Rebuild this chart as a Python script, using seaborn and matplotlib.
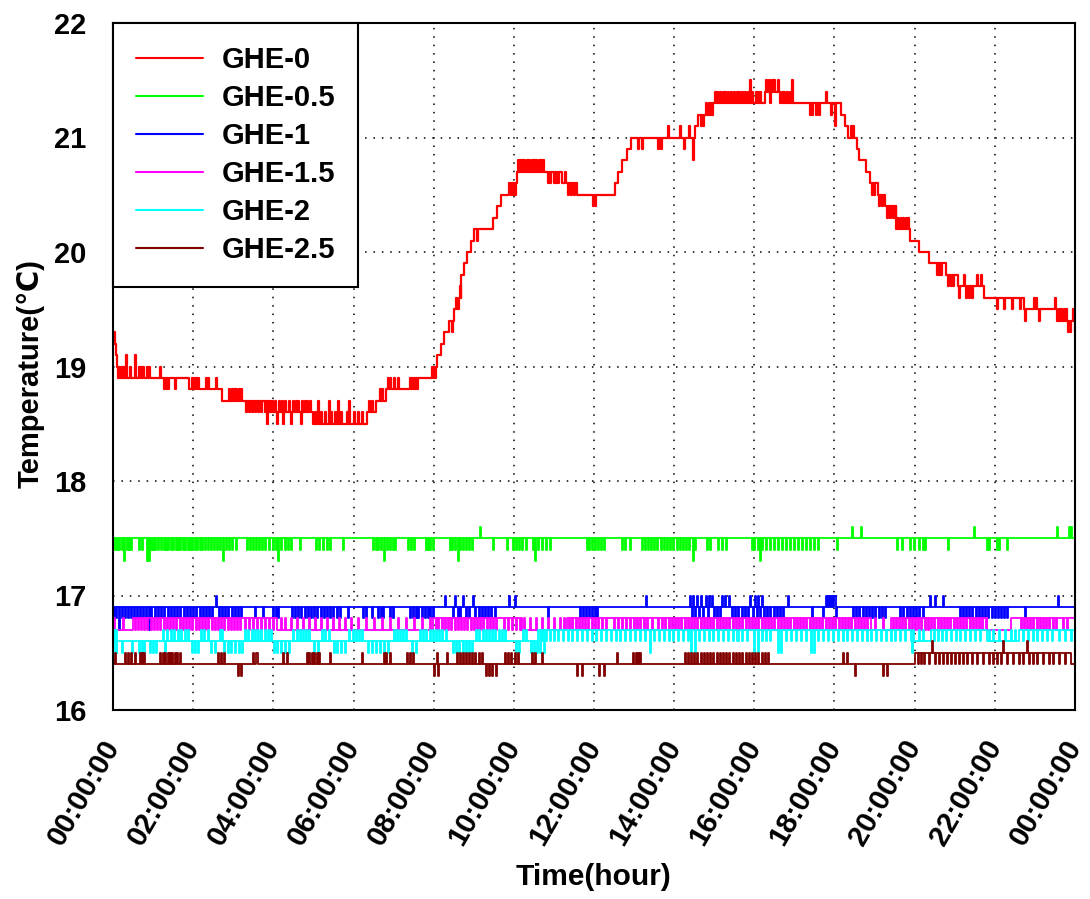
import numpy as np
import matplotlib
matplotlib.use("Agg")
import matplotlib.pyplot as plt
import seaborn as sns
from matplotlib.ticker import MultipleLocator

sns.set_theme(style="white")
plt.rcParams['font.family'] = ['Liberation Sans', 'DejaVu Sans']
plt.rcParams['font.weight'] = 'bold'
plt.rcParams['text.color'] = 'black'
plt.rcParams['axes.labelcolor'] = 'black'
plt.rcParams['xtick.color'] = 'black'
plt.rcParams['ytick.color'] = 'black'
plt.rcParams['axes.edgecolor'] = 'black'

# ---------------- data (time in hours, temperature in degC) ----------------
SERIES = ["GHE-0", "GHE-0.5", "GHE-1", "GHE-1.5", "GHE-2", "GHE-2.5"]
COLORS = ["#FF0000", "#00FF00", "#0000FF", "#FF00FF", "#00FFFF", "#800000"]
XTICK_LABELS = ["00:00:00", "02:00:00", "04:00:00", "06:00:00", "08:00:00",
                "10:00:00", "12:00:00", "14:00:00", "16:00:00", "18:00:00",
                "20:00:00", "22:00:00", "00:00:00"]

# GHE-0 : base steps
ghe0_t = [0.00, 0.06, 0.08, 0.10, 0.12, 1.90, 2.72, 4.00, 5.00, 6.33, 6.55, 6.80,
          7.60, 7.95, 8.08, 8.18, 8.27, 8.39, 8.51, 8.62, 8.68, 8.75, 8.82, 8.92,
          9.00, 9.48, 9.58, 9.68, 9.88, 10.07, 11.20, 11.57, 12.52, 12.60, 12.69,
          12.82, 12.92, 14.51, 14.60, 14.98, 16.27, 16.64, 18.17, 18.25, 18.34,
          18.55, 18.61, 18.79, 18.88, 19.08, 19.25, 19.54, 19.89, 20.12, 20.37,
          20.77, 21.07, 21.74, 22.73, 23.56, 24.00]
ghe0_v = [19.3, 19.2, 19.1, 19.0, 18.9, 18.8, 18.7, 18.6, 18.5, 18.6, 18.7, 18.8,
          18.9, 19.0, 19.1, 19.2, 19.3, 19.4, 19.5, 19.6, 19.8, 19.9, 20.0, 20.1,
          20.2, 20.3, 20.4, 20.5, 20.6, 20.7, 20.6, 20.5, 20.6, 20.7, 20.8,
          20.9, 21.0, 21.1, 21.2, 21.3, 21.4, 21.3, 21.2, 21.1, 21.0,
          20.9, 20.8, 20.7, 20.6, 20.5, 20.4, 20.2, 20.1, 20.0, 19.9,
          19.8, 19.7, 19.6, 19.5, 19.4, 19.3]
# GHE-0 : short excursions (level, times)
ghe0_spikes = [
    (19.0, [0.15, 0.19, 0.23, 0.27, 0.43, 0.64, 0.69, 0.74, 0.86, 0.90, 1.18]),
    (19.1, [0.32, 0.56]),
    (18.8, [1.27, 1.33, 1.38, 1.55, 2.90, 2.96, 3.02, 3.08, 3.14, 3.20, 6.65, 6.72]),
    (18.9, [1.96, 2.01, 2.06, 2.11, 2.32, 2.37, 2.56, 6.86, 6.92, 7.02, 7.12, 7.42,
            7.47, 7.52, 7.57, 7.98, 8.03]),
    (18.6, [3.33, 3.40, 3.48, 3.55, 3.62, 3.70, 3.78, 3.90, 3.95, 5.05, 5.20, 5.30,
            5.45, 5.55, 5.70, 5.85, 6.00, 6.10, 6.20]),
    (18.5, [3.83, 4.10, 4.25, 4.45, 4.68]),
    (18.7, [4.05, 4.15, 4.21, 4.30, 4.38, 4.50, 4.56, 4.62, 4.72, 4.78, 4.85, 4.92,
            5.12, 5.40, 5.62, 5.90, 6.38, 6.45]),
    (19.3, [8.45]), (19.6, [8.55]), (19.7, [8.65]), (20.1, [9.07]),
    (20.5, [9.92, 9.97, 10.02, 11.35, 11.42, 11.50]),
    (20.8, [10.10, 10.15, 10.20, 10.26, 10.32, 10.38, 10.45, 10.50, 10.56, 10.62,
            10.68, 10.74]),
    (20.6, [10.85, 10.90, 11.00, 11.05, 11.10]),
    (20.7, [11.28]),
    (20.4, [11.98, 12.03]),
    (20.9, [13.10, 13.20, 13.60, 13.68, 14.25]),
    (21.1, [13.85, 14.15, 14.38, 14.66, 14.72, 18.02, 18.40, 18.45]),
    (20.8, [14.46]),
    (21.3, [14.80, 14.88, 14.93, 16.40]),
    (21.4, [15.02, 15.08, 15.15, 15.22, 15.28, 15.35, 15.42, 15.50, 15.57, 15.62,
            15.70, 15.76, 15.83, 15.95, 16.05, 16.10, 16.15, 16.70, 16.75, 16.82,
            16.88, 17.78]),
    (21.5, [15.90, 16.30, 16.37, 16.45, 16.50, 16.58, 16.93]),
    (21.2, [17.40, 17.45, 17.55, 17.62, 17.92]),
    (20.5, [18.93, 18.98]),
    (20.4, [19.12, 19.18]),
    (20.3, [19.30, 19.38, 19.45, 19.50, 19.58, 19.65, 19.72, 19.78, 19.84]),
    (19.8, [20.55, 20.60, 20.65, 21.22, 21.55, 21.65]),
    (19.7, [20.82, 20.90, 20.95]),
    (19.6, [21.10, 21.28, 21.35, 21.42, 22.98, 23.02, 23.50]),
    (19.5, [22.05, 22.22, 22.42, 22.62, 23.60, 23.65, 23.72, 23.78, 23.95]),
    (19.4, [22.75, 23.10]),
    (19.3, [23.83, 23.88]),
]

# GHE-0.5
ghe05_t = [0.0, 24.0]
ghe05_v = [17.5, 17.5]
ghe05_spikes = [
    (17.4, [0.05, 0.10, 0.15, 0.22, 0.34, 0.40, 0.46, 0.66, 0.72, 0.95, 1.00, 1.06,
            1.12, 1.20, 1.26, 1.32, 1.38, 1.44, 1.50, 1.56, 1.62, 1.68, 1.74, 1.80,
            1.86, 1.92, 1.98, 2.04, 2.10, 2.16, 2.22, 2.30, 2.38, 2.45, 2.52, 2.60,
            2.68, 2.82, 2.90, 2.98, 3.06, 3.34, 3.42, 3.50, 3.57, 3.64, 3.72, 3.80,
            3.88, 4.00, 4.06, 4.20, 4.28, 4.36, 4.44, 4.67, 5.07, 5.15, 5.25, 5.33,
            5.41, 5.74, 6.49, 6.55, 6.62, 6.68, 6.84, 6.92, 6.98, 7.04, 7.36, 7.44,
            7.52, 7.80, 7.86, 7.92, 7.99, 8.40, 8.46, 8.52, 8.66, 8.72, 8.80, 8.88,
            8.96, 9.47, 9.83, 9.98, 10.05, 10.12, 10.20, 10.30, 10.48, 10.60, 10.70,
            10.80, 10.90, 11.82, 11.88, 11.95, 12.02, 12.10, 12.18, 12.26, 12.69,
            12.78, 12.90, 13.19, 13.26, 13.34, 13.42, 13.50, 13.58, 13.66, 13.74,
            13.82, 13.90, 13.98, 14.06, 14.14, 14.22, 14.30, 14.38, 14.52, 14.81,
            14.90, 15.10, 15.20, 15.30, 15.93, 16.00, 16.08, 16.20, 16.30, 16.40,
            16.50, 16.60, 16.70, 16.80, 16.90, 17.00, 17.10, 17.20, 17.30, 17.40,
            17.50, 17.60, 18.05, 19.55, 19.68, 19.89, 19.98, 20.12, 20.20, 20.26,
            20.84, 21.80, 21.86, 22.05, 22.10, 22.30]),
    (17.3, [0.27, 0.84, 0.90, 2.75, 4.12, 6.76, 8.60, 10.53, 14.46, 16.14]),
    (17.6, [9.16, 18.43, 18.65, 21.49, 23.55, 23.85, 23.90]),
]

# GHE-1
ghe1_t = [0.0, 24.0]
ghe1_v = [16.9, 16.9]
ghe1_spikes = [
    (16.8, [0.02, 0.08, 0.22, 0.30, 0.38, 0.45, 0.52, 0.60, 0.68, 0.75, 0.82, 0.96,
            1.04, 1.12, 1.20, 1.28, 1.36, 1.44, 1.52, 1.60, 1.68, 1.76, 1.84, 1.92,
            2.00, 2.08, 2.16, 2.24, 2.32, 2.40, 2.48, 2.64, 2.72, 2.80, 2.88, 2.96,
            3.04, 3.12, 3.20, 3.54, 3.74, 4.00, 4.06, 4.12, 4.46, 4.54, 4.62, 4.70,
            4.78, 4.86, 4.94, 5.02, 5.10, 5.18, 5.26, 5.34, 5.42, 5.50, 5.58, 5.66,
            5.87, 6.24, 6.30, 6.45, 6.62, 6.68, 6.74, 6.91, 6.99, 7.41, 7.48, 7.55,
            7.62, 7.70, 7.78, 7.85, 7.92, 7.98, 8.48, 8.60, 8.66, 8.80, 8.88, 9.04,
            9.12, 9.20, 9.28, 9.36, 9.44, 9.52, 10.85, 11.65, 11.72, 11.80, 11.88,
            11.95, 12.02, 12.08, 14.44, 14.52, 14.62, 14.72, 14.84, 15.00, 15.08,
            15.14, 15.44, 15.52, 15.60, 15.68, 15.76, 15.84, 15.96, 16.06, 16.14,
            16.24, 16.32, 16.40, 16.48, 16.56, 16.64, 16.72, 17.43, 17.72, 18.04,
            18.46, 18.54, 18.62, 18.70, 18.78, 18.86, 18.94, 19.02, 19.10, 19.18,
            19.26, 19.64, 19.72, 19.80, 19.88, 19.96, 20.04, 20.12, 20.20, 21.13,
            21.20, 21.28, 21.36, 21.44, 21.52, 21.60, 21.68, 21.76, 21.84, 21.92,
            22.00, 22.08, 22.16, 22.24, 22.30, 22.75]),
    (16.7, [0.15, 0.90]),
    (17.0, [2.57, 8.28, 8.53, 8.73, 8.98, 9.88, 10.03, 13.30, 14.40, 14.48, 14.56,
            14.66, 14.80, 14.88, 14.95, 15.20, 15.28, 15.36, 15.90, 16.02, 16.10,
            16.18, 16.84, 17.80, 17.85, 17.90, 17.95, 18.00, 20.38, 20.50, 20.70,
            23.58]),
]

# GHE-1.5
ghe15_t = [0.0, 0.5, 4.1, 7.99, 10.2, 11.32, 18.9, 19.4, 21.8, 22.4, 24.0]
ghe15_v = [16.7, 16.8, 16.7, 16.8, 16.7, 16.8, 16.7, 16.8, 16.7, 16.8, 16.8]
ghe15_spikes = [
    (16.7, [0.55, 0.62, 0.70, 0.78, 0.86, 0.94, 1.02, 1.10, 1.18, 1.26, 1.34, 1.42,
            1.50, 1.58, 1.66, 1.74, 1.82, 1.90, 1.98, 2.06, 2.14, 2.22, 2.30, 2.38,
            2.46, 2.54, 2.62, 2.70, 2.78, 2.86, 2.94, 3.02, 3.10, 3.18, 3.30, 3.40,
            3.50, 3.60, 3.70, 3.80, 3.90, 4.00, 8.05, 8.12, 8.20, 8.28, 8.36, 8.44,
            8.52, 8.60, 8.68, 8.76, 8.84, 8.92, 9.00, 9.08, 9.16, 9.24, 9.32, 9.40,
            9.48, 9.56, 9.75, 9.85, 9.95, 10.05, 10.15, 11.38, 11.46, 11.54, 11.62,
            11.70, 11.78, 11.86, 11.94, 12.02, 12.10, 12.20, 12.30, 12.50, 12.60,
            12.70, 12.80, 12.90, 13.00, 13.08, 13.16, 13.24, 13.32, 13.45, 13.60,
            13.70, 13.78, 13.86, 13.94, 14.02, 14.10, 14.18, 14.26, 14.34, 14.42,
            14.50, 14.58, 14.66, 14.74, 14.82, 14.90, 14.98, 15.06, 15.14, 15.22,
            15.30, 15.38, 15.46, 15.54, 15.62, 15.70, 15.78, 15.86, 15.94, 16.02,
            16.10, 16.18, 16.26, 16.34, 16.42, 16.50, 16.58, 16.66, 16.74, 16.82,
            16.90, 16.98, 17.06, 17.14, 17.22, 17.30, 17.38, 17.46, 17.54, 17.62,
            17.70, 17.78, 17.86, 17.94, 18.02, 18.10, 18.18, 18.26, 18.34, 18.42,
            18.50, 18.58, 18.66, 18.74, 18.82, 19.45, 19.53, 19.61, 19.69, 19.77,
            19.85, 19.93, 20.01, 20.09, 20.17, 20.25, 20.33, 20.41, 20.49, 20.57,
            20.65, 20.73, 20.81, 20.89, 20.97, 21.05, 21.13, 21.21, 21.29, 21.37,
            21.45, 21.53, 21.61, 21.69, 21.77, 22.65, 22.72, 22.80, 22.88, 22.96,
            23.04, 23.12, 23.20, 23.28, 23.36, 23.44, 23.52, 23.70, 23.80]),
    (16.8, [0.03, 0.25, 4.20, 4.30, 4.45, 4.60, 4.75, 4.90, 5.05, 5.20, 5.35, 5.50,
            5.65, 5.80, 5.95, 6.10, 6.30, 6.50, 6.70, 6.90, 7.10, 7.30, 7.50, 7.70,
            7.90, 10.25, 10.40, 10.55, 10.70, 10.85, 11.00, 11.15, 11.25, 19.00,
            19.20]),
]

# GHE-2
ghe2_t = [0.0, 10.6, 19.9, 20.4, 21.8, 22.6, 24.0]
ghe2_v = [16.6, 16.7, 16.6, 16.7, 16.6, 16.7, 16.7]
ghe2_spikes = [
    (16.7, [0.02, 0.08, 1.25, 1.34, 1.44, 1.52, 1.62, 1.70, 1.80, 1.88, 2.20, 2.28,
            2.36, 2.66, 2.72, 3.30, 3.38, 3.46, 3.54, 3.62, 3.70, 3.78, 3.86, 3.94,
            4.50, 4.58, 4.66, 4.74, 4.82, 4.90, 5.22, 5.30, 5.38, 5.90, 5.98, 6.06,
            6.14, 6.22, 7.00, 7.08, 7.16, 7.24, 7.32, 7.66, 7.74, 7.82, 7.90, 7.98,
            8.06, 8.14, 8.22, 8.30, 9.06, 9.14, 9.22, 9.30, 9.38, 9.46, 9.54, 9.62,
            9.70, 9.78, 10.22, 10.30, 19.96, 20.10, 20.22, 21.85, 21.95, 22.10,
            22.25, 22.40, 22.50]),
    (16.6, [10.70, 10.80, 10.90, 11.00, 11.10, 11.22, 11.34, 11.46, 11.58, 11.70,
            11.82, 11.94, 12.06, 12.18, 12.30, 12.42, 12.54, 12.66, 12.78, 12.90,
            13.02, 13.14, 13.26, 13.50, 13.62, 13.74, 13.86, 13.98, 14.10, 14.22,
            14.34, 14.62, 14.74, 14.86, 14.98, 15.10, 15.22, 15.34, 15.46, 15.58,
            15.70, 15.82, 16.20, 16.30, 16.40, 16.80, 16.92, 17.04, 17.16, 17.28,
            17.60, 17.72, 17.84, 17.96, 18.08, 18.20, 18.32, 18.44, 18.56, 18.68,
            18.80, 18.92, 19.04, 19.16, 19.28, 19.40, 19.52, 19.64, 19.76, 20.48,
            20.58, 20.68, 20.78, 20.90, 21.02, 21.14, 21.26, 21.38, 21.50, 21.62,
            22.70, 22.82, 22.94, 23.06, 23.18, 23.30, 23.42, 23.60, 23.75, 23.90]),
    (16.5, [0.05, 0.10, 0.22, 0.47, 0.65, 0.72, 0.78, 0.93, 1.00, 1.08, 1.30, 1.98,
            2.05, 2.12, 2.45, 2.55, 2.78, 2.86, 2.95, 3.05, 3.15, 3.22, 4.02, 4.10,
            4.20, 4.30, 4.38, 5.02, 5.12, 5.52, 5.60, 5.70, 5.80, 6.36, 6.45, 6.55,
            6.65, 6.75, 6.85, 7.45, 7.55, 8.48, 8.56, 8.64, 8.72, 8.80, 8.88, 8.96,
            10.05, 10.12, 10.42, 10.50, 10.58, 10.66, 10.75, 13.40, 14.42, 14.52,
            16.00, 16.10, 16.58, 16.66, 17.42, 17.50, 19.93]),
]

# GHE-2.5
ghe25_t = [0.0, 20.0, 23.9, 24.0]
ghe25_v = [16.4, 16.5, 16.4, 16.4]
ghe25_spikes = [
    (16.5, [0.05, 0.30, 0.38, 0.44, 0.56, 0.67, 0.72, 0.78, 1.18, 1.24, 1.30, 1.36,
            1.42, 1.48, 1.54, 1.60, 1.66, 2.63, 2.70, 2.77, 3.50, 3.58, 4.25, 4.33,
            4.84, 4.90, 4.96, 5.02, 5.08, 5.14, 5.41, 6.20, 6.75, 6.82, 6.90, 7.34,
            7.42, 7.48, 8.08, 8.33, 8.58, 8.65, 8.72, 8.80, 8.88, 8.96, 9.04, 9.12,
            9.20, 9.78, 9.86, 9.94, 10.02, 10.10, 10.46, 10.52, 10.70, 12.57, 12.98,
            13.04, 13.10, 13.15, 14.28, 14.35, 14.42, 14.50, 14.58, 14.66, 14.74,
            14.82, 14.90, 14.98, 15.06, 15.14, 15.22, 15.30, 15.38, 15.46, 15.54,
            15.62, 15.70, 15.78, 15.86, 15.94, 16.02, 16.10, 16.18, 16.26, 16.34,
            18.22, 18.30]),
    (16.3, [3.13, 3.20, 8.00, 8.12, 9.30, 9.38, 9.46, 9.55, 11.58, 11.70, 12.12,
            12.25, 18.51, 19.22, 19.30]),
    (16.4, [20.08, 20.16, 20.24, 20.35, 20.50, 20.60, 20.70, 20.80, 20.90, 21.00,
            21.10, 21.20, 21.30, 21.42, 21.55, 21.70, 21.85, 21.95, 22.05, 22.15,
            22.30, 22.45, 22.60, 22.70, 22.85, 22.95, 23.05, 23.20, 23.35, 23.45,
            23.60, 23.75]),
    (16.6, [20.42, 22.20, 22.80]),
]


def build(base_t, base_v, spikes, dt=0.025):
    bt = np.asarray(base_t, float)
    bv = np.asarray(base_v, float)
    ts, vs = list(bt), list(bv)
    for level, times in spikes:
        for t in times:
            te = t + dt
            i = np.searchsorted(bt, te, side="right") - 1
            ts += [t, te]
            vs += [level, bv[i]]
    order = np.argsort(ts, kind="stable")
    return np.asarray(ts)[order], np.asarray(vs)[order]


data = [
    build(ghe0_t, ghe0_v, ghe0_spikes),
    build(ghe05_t, ghe05_v, ghe05_spikes),
    build(ghe1_t, ghe1_v, ghe1_spikes),
    build(ghe15_t, ghe15_v, ghe15_spikes),
    build(ghe2_t, ghe2_v, ghe2_spikes),
    build(ghe25_t, ghe25_v, ghe25_spikes),
]
widths = [1.6, 1.3, 1.3, 1.3, 1.3, 1.3]

fig = plt.figure(figsize=(10.9, 8.99), dpi=100)
ax = fig.add_axes([113 / 1090, 1 - 710 / 899, (1075 - 113) / 1090, (710 - 23) / 899])

for name, color, (t, v), lw in zip(SERIES, COLORS, data, widths):
    sns.lineplot(x=t, y=v, ax=ax, color=color, linewidth=lw, label=name,
                 estimator=None, sort=False, drawstyle="steps-post")

ax.set_xlim(0, 24)
ax.set_ylim(16, 22)
ax.set_xticks(np.arange(0, 25, 2))
ax.xaxis.set_minor_locator(MultipleLocator(1))
ax.set_yticks(np.arange(16, 23, 1))
ax.yaxis.set_minor_locator(MultipleLocator(0.5))

ax.set_xticklabels(XTICK_LABELS, rotation=60, ha="right", va="center",
                   rotation_mode="anchor", fontsize=21, fontweight="bold",
                   color="black")
ax.set_yticklabels([str(i) for i in range(16, 23)], fontsize=21, fontweight="bold",
                   color="black")

ax.tick_params(axis="both", which="major", direction="inout", length=14, width=1.5,
               color="black")
ax.tick_params(axis="x", which="major", pad=16)
ax.tick_params(axis="y", which="major", pad=12)
ax.tick_params(axis="x", which="minor", direction="inout", length=9, width=1.3,
               color="black")
ax.tick_params(axis="y", which="minor", direction="out", length=4.5, width=1.3,
               color="black")
ax.tick_params(top=False, right=False, which="both")

for sp in ax.spines.values():
    sp.set_visible(True)
    sp.set_color("black")
    sp.set_linewidth(1.5)

ax.grid(True, which="major", color="black", linestyle=(0, (1, 4.5)), linewidth=1.1)
ax.set_axisbelow(True)

ax.set_xlabel("Time(hour)", fontsize=21.5, fontweight="bold", color="black")
ax.xaxis.set_label_coords(0.5, -0.222)
ax.set_ylabel("Temperature(℃)", fontsize=21, fontweight="bold", color="black")
ax.yaxis.set_label_coords(-0.071, 0.49)

leg = ax.legend(loc="upper left", bbox_to_anchor=(0, 1), borderaxespad=0,
                frameon=True, fancybox=False, edgecolor="black", framealpha=1,
                prop={"size": 21, "weight": "bold"}, handlelength=2.3,
                handletextpad=0.62, labelspacing=0.34, borderpad=0.8)
leg.get_frame().set_linewidth(1.5)
for ln in leg.get_lines():
    ln.set_linewidth(1.5)
for txt in leg.get_texts():
    txt.set_color("black")

fig.savefig("out.png", dpi=100)
